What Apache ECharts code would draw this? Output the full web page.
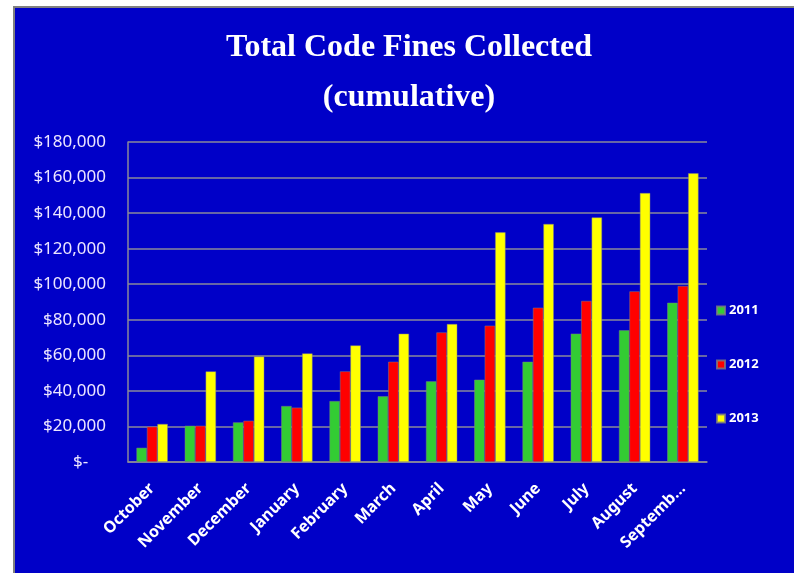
<!DOCTYPE html>
<html>
<head>
<meta charset="utf-8">
<script src="https://cdn.jsdelivr.net/npm/echarts@6/dist/echarts.min.js"></script>
<style>
html,body{margin:0;padding:0;background:#fff;}
#chart{width:794px;height:573px;}
</style>
</head>
<body>
<div id="chart"></div>
<script>
const categories = ['October','November','December','January','February','March','April','May','June','July','August','September'];
const seriesNames = ['2011','2012','2013'];
const values2011 = [8000, 20400, 22300, 31500, 34300, 37000, 45400, 46300, 56400, 72200, 74100, 89600];
const values2012 = [19900, 20400, 23200, 30600, 51000, 56400, 72900, 76700, 86800, 90600, 96000, 99000];
const values2013 = [21400, 51000, 59400, 61100, 65600, 72200, 77600, 129200, 133900, 137600, 151300, 162400];
const colors = ['#33cc33', '#ff0000', '#ffff00'];
const titleText = 'Total Code Fines Collected\n(cumulative)';

const chart = echarts.init(document.getElementById('chart'), null, {renderer: 'canvas'});
const barStyle = (c) => ({color: c, borderColor: 'rgba(128,128,128,0.8)', borderWidth: 0.6});
chart.setOption({
  backgroundColor: '#ffffff',
  animation: false,
  graphic: [
    {type: 'rect', z: -10, shape: {x: 13, y: 6, width: 781, height: 567}, style: {fill: '#808080'}},
    {type: 'rect', z: -9, shape: {x: 15, y: 8, width: 779, height: 565}, style: {fill: '#0000c8'}}
  ],
  title: {
    text: titleText,
    left: 404,
    textAlign: 'center',
    top: 18,
    textStyle: {color: '#ffffff', fontFamily: 'Liberation Serif', fontWeight: 'bold', fontSize: 32, lineHeight: 50}
  },
  legend: {
    orient: 'vertical',
    left: 711,
    top: 299,
    itemWidth: 8,
    itemHeight: 8,
    itemGap: 41,
    icon: 'rect',
    data: seriesNames,
    textStyle: {color: '#ffffff', fontFamily: 'Noto Sans', fontWeight: 'bold', fontSize: 13, padding: [0, 0, 0, -1]}
  },
  grid: {left: 128, right: 87, top: 142, bottom: 111, containLabel: false},
  xAxis: {
    type: 'category',
    data: categories,
    axisLine: {lineStyle: {color: '#8a8a9a', width: 1.5}},
    axisTick: {show: false},
    axisLabel: {
      rotate: 45,
      interval: 0,
      margin: 24,
      color: '#ffffff',
      fontFamily: 'Noto Sans',
      fontWeight: 'bold',
      fontSize: 16,
      formatter: (v) => v.length > 8 ? v.slice(0, 7) + '...' : v
    }
  },
  yAxis: {
    type: 'value',
    min: 0,
    max: 180000,
    interval: 20000,
    axisLine: {show: true, lineStyle: {color: '#8a8a9a', width: 1.5}},
    axisTick: {show: false},
    splitLine: {lineStyle: {color: '#8a8a9a', width: 1.5}},
    axisLabel: {
      margin: 22,
      color: '#ece6ff',
      fontFamily: 'Noto Sans',
      fontSize: 17,
      formatter: (v) => v === 0 ? '$-    ' : '$' + v.toLocaleString('en-US')
    }
  },
  series: [
    {name: seriesNames[0], type: 'bar', data: values2011, itemStyle: barStyle(colors[0]), barGap: '0%', barCategoryGap: '35%'},
    {name: seriesNames[1], type: 'bar', data: values2012, itemStyle: barStyle(colors[1]), barGap: '0%', barCategoryGap: '35%'},
    {name: seriesNames[2], type: 'bar', data: values2013, itemStyle: barStyle(colors[2]), barGap: '0%', barCategoryGap: '35%'}
  ]
});
</script>
</body>
</html>
